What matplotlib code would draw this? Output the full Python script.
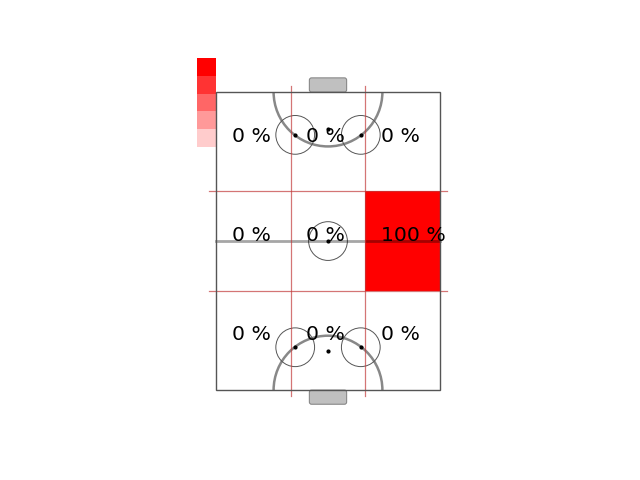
import numpy as np
import matplotlib
matplotlib.use('Agg')
import matplotlib.pyplot as plt
from matplotlib.patches import Rectangle, Circle, Arc, FancyBboxPatch

# ---------------- data ---------------- #
# zone shares, rows from top of the rink to bottom, columns left to right
zone_pct_top = [0, 0, 0]
zone_pct_mid = [0, 0, 100]
zone_pct_bot = [0, 0, 0]
legend_alphas = [1.0, 0.8, 0.6, 0.4, 0.2]

# ---------------- rink geometry ---------------- #
W, L = 30, 40
line_col = '#555555'
grid_col = '#c23b3b'

fig, ax = plt.subplots(figsize=(6.4, 4.8), dpi=100)

# zones
rows = [zone_pct_top, zone_pct_mid, zone_pct_bot]
zw, zh = W / 3, L / 3
for r, row in enumerate(rows):
    y0 = L - (r + 1) * zh
    for c, pct in enumerate(row):
        x0 = c * zw
        if pct > 0:
            ax.add_patch(Rectangle((x0, y0), zw, zh, facecolor='red',
                                   alpha=pct / 100, edgecolor='none', zorder=1))
        ax.text(x0 + 2.1, y0 + zh / 2, f'{pct} %', ha='left',
                va='baseline', fontsize=14.7, color='black', zorder=6)

# centre line
ax.plot([0, W], [L / 2, L / 2], color='black', alpha=0.35, lw=2, zorder=3)

# grid lines
for gx in [zw, 2 * zw]:
    ax.plot([gx, gx], [-0.8, L + 0.8], color=grid_col, alpha=0.7, lw=0.9, zorder=4)
for gy in [zh, 2 * zh]:
    ax.plot([-0.95, W + 0.95], [gy, gy], color=grid_col, alpha=0.7, lw=0.9, zorder=4)

# rink outline
ax.add_patch(Rectangle((0, 0), W, L, fill=False, edgecolor=line_col, lw=1, zorder=5))

# goals
for gy in [L, -1.9]:
    ax.add_patch(FancyBboxPatch((12.6, gy + 0.1), 4.8, 1.7,
                                boxstyle='round,pad=0.1,rounding_size=0.3',
                                facecolor='#c0c0c0', edgecolor='#888888', lw=0.8, zorder=2))

# creases
ax.add_patch(Arc((15, L), 14.6, 14.6, theta1=180, theta2=360,
                 color='#888888', lw=1.8, zorder=2))
ax.add_patch(Arc((15, 0), 14.6, 14.6, theta1=0, theta2=180,
                 color='#888888', lw=1.8, zorder=2))

# faceoff circles and dots
for cx, cy in [(10.6, 34.25), (19.4, 34.25), (10.6, 5.75), (19.4, 5.75), (15, 20)]:
    ax.add_patch(Circle((cx, cy), 2.6, fill=False, edgecolor='#555555', lw=0.7, zorder=2))
    ax.plot(cx, cy, 'o', color='black', ms=2, zorder=3)
for cx, cy in [(15, 35), (15, 5.2)]:
    ax.plot(cx, cy, 'o', color='black', ms=2, zorder=3)

# shade legend
sq = 2.4
for i, a in enumerate(legend_alphas):
    ax.add_patch(Rectangle((-2.55, 44.6 - (i + 1) * sq), 2.55, sq,
                           facecolor='red', alpha=a, edgecolor='none', zorder=1))

ax.set_xlim(-12, 42)
ax.set_ylim(-4.98, 44.62)
ax.set_aspect('equal')
ax.axis('off')

plt.savefig('out.png', dpi=100)
